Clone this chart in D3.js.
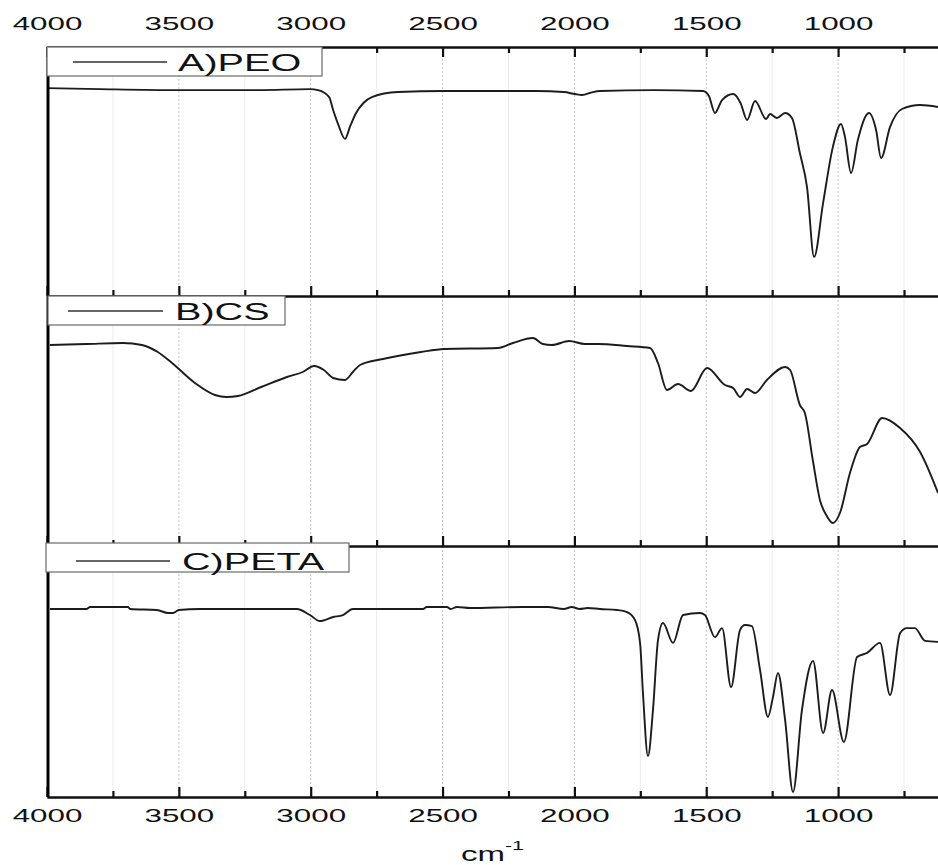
<!DOCTYPE html>
<html>
<head>
<meta charset="utf-8">
<script src="https://cdn.jsdelivr.net/npm/d3@7"></script>
<style>
  body { margin: 0; background: #fff; }
  svg { display: block; }
  text { font-family: Arial, "Liberation Sans", sans-serif; fill: #111; }
</style>
</head>
<body>
<svg id="chart" width="938" height="865"></svg>
<script>
// FTIR spectra, wavenumber (cm-1) vs transmittance (a.u.)
const wnPEO = [4000, 3800, 3500, 3200, 3003, 2972, 2930, 2915, 2895, 2870, 2850, 2828, 2800, 2768, 2669, 2494, 2300, 2146, 2040, 1998, 1971, 1930, 1903, 1700, 1512, 1490, 1467, 1440, 1398, 1370, 1345, 1315, 1273, 1258, 1232, 1201, 1175, 1145, 1118, 1091, 1057, 1020, 989, 974, 951, 925, 883, 856, 837, 803, 758, 689, 621];
const tPEO = [83.5, 83.1, 82.7, 82.7, 83.1, 82.7, 79.9, 74.7, 68.7, 63.1, 68.3, 73.5, 77.5, 79.9, 81.9, 82.3, 82.3, 82.3, 81.9, 81.1, 80.7, 81.9, 82.3, 82.7, 82.3, 80.3, 73.5, 78.7, 81.1, 77.5, 70.7, 78.3, 71.1, 73.1, 71.5, 73.5, 71.5, 57.4, 43.8, 15.7, 37.3, 59.8, 69.1, 63.9, 49.4, 62.7, 73.5, 66.7, 55.4, 67.9, 75.1, 76.7, 75.9];

const wnCS = [3989, 3850, 3712, 3640, 3580, 3526, 3439, 3363, 3320, 3276, 3188, 3090, 3030, 2987, 2950, 2915, 2870, 2840, 2813, 2726, 2582, 2494, 2290, 2233, 2157, 2120, 2085, 2020, 1960, 1910, 1800, 1713, 1683, 1649, 1607, 1558, 1497, 1429, 1398, 1372, 1345, 1315, 1270, 1201, 1182, 1145, 1126, 1096, 1069, 1045, 1020, 993, 955, 917, 890, 833, 765, 689, 621];
const tCS = [80.4, 80.8, 81.2, 80.4, 77.6, 73.2, 65.2, 60.4, 59.6, 60.0, 63.6, 67.6, 69.6, 72.0, 70.4, 67.2, 66.4, 69.6, 72.4, 74.8, 77.6, 78.8, 79.2, 81.2, 83.2, 80.8, 80.4, 82.0, 80.8, 80.8, 80.0, 79.2, 73.2, 62.4, 64.8, 62.0, 71.2, 64.4, 63.2, 59.6, 62.8, 61.2, 66.4, 71.6, 70.4, 56.4, 53.2, 34.4, 18.4, 12.4, 9.2, 13.2, 29.2, 39.6, 40.8, 51.2, 47.2, 37.6, 21.2];

const wnPETA = [3989, 3850, 3837, 3693, 3685, 3583, 3541, 3522, 3500, 3420, 3052, 3003, 2965, 2915, 2878, 2840, 2574, 2560, 2483, 2470, 2445, 2396, 2200, 2100, 2040, 2010, 1980, 1950, 1903, 1838, 1800, 1770, 1751, 1740, 1721, 1702, 1683, 1664, 1626, 1588, 1524, 1505, 1467, 1440, 1406, 1372, 1353, 1327, 1296, 1266, 1247, 1228, 1201, 1171, 1137, 1095, 1057, 1023, 978, 928, 890, 841, 803, 765, 739, 709, 670, 621];
const tPETA = [74.9, 74.9, 75.7, 75.7, 74.9, 74.5, 73.3, 73.3, 74.5, 74.9, 74.9, 72.5, 70.1, 71.7, 72.5, 74.9, 74.9, 75.7, 75.7, 74.9, 75.7, 75.3, 75.7, 75.7, 74.9, 75.7, 74.9, 75.3, 74.9, 74.5, 73.7, 70.5, 61.4, 41.4, 16.3, 34.7, 62.5, 69.3, 61.4, 72.5, 73.3, 72.5, 63.7, 67.3, 43.8, 66.5, 68.5, 68.1, 50.6, 31.9, 39.8, 49.4, 30.7, 2.0, 34.7, 54.2, 25.5, 42.6, 21.9, 55.8, 57.4, 61.4, 40.6, 65.3, 67.3, 67.3, 62.2, 61.8];

const seriesNames = ['A)PEO', 'B)CS', 'C)PETA'];
const majorTicks = [4000, 3500, 3000, 2500, 2000, 1500, 1000];
const minorTicks = [3750, 3250, 2750, 2250, 1750, 1250, 750];
const axisTitle = 'cm';
const axisTitleSup = '-1';

const svg = d3.select('#chart');
const SX = 1.65; // the original figure is stretched horizontally

const left = 47;
const x = d3.scaleLinear().domain([4000, 500]).range([left, left + 3500 * 0.2637]);
const panels = [
  { top: 47, bottom: 296, wn: wnPEO, t: tPEO, name: seriesNames[0], box: [47, 322], lineX: [73, 167], textX: 178 },
  { top: 296, bottom: 546, wn: wnCS, t: tCS, name: seriesNames[1], box: [48, 285], lineX: [68, 163], textX: 175 },
  { top: 546, bottom: 797, wn: wnPETA, t: tPETA, name: seriesNames[2], box: [46, 349], lineX: [76, 170], textX: 182 }
];

// grid lines
panels.forEach(p => {
  const g = svg.append('g');
  g.selectAll('.minor').data(minorTicks).enter().append('line')
    .attr('x1', d => x(d)).attr('x2', d => x(d))
    .attr('y1', p.top).attr('y2', p.bottom)
    .attr('stroke', '#ececec').attr('stroke-width', 1);
  g.selectAll('.major').data(majorTicks.slice(1)).enter().append('line')
    .attr('x1', d => x(d)).attr('x2', d => x(d))
    .attr('y1', p.top).attr('y2', p.bottom)
    .attr('stroke', '#c4c4c4').attr('stroke-width', 1)
    .attr('stroke-dasharray', '2,2');
});

// spectra
panels.forEach(p => {
  const y = d3.scaleLinear().domain([0, 100]).range([p.bottom, p.top]);
  const line = d3.line()
    .x((d, i) => x(p.wn[i]))
    .y(d => y(d))
    .curve(d3.curveMonotoneX);
  svg.append('path')
    .datum(p.t)
    .attr('d', line)
    .attr('fill', 'none')
    .attr('stroke', '#1c1c1c')
    .attr('stroke-width', 1.9)
    .attr('stroke-linejoin', 'round');
});

function styleAxis(g) {
  g.select('.domain').attr('stroke', '#111').attr('stroke-width', 2);
  g.selectAll('.tick line').attr('stroke', '#111').attr('stroke-width', 2.2);
}

// top axis with labels, ticks pointing inward
const topMajor = svg.append('g').attr('transform', `translate(0,${panels[0].top})`)
  .call(d3.axisTop(x).tickValues(majorTicks).tickSize(-10).tickSizeOuter(0).tickPadding(17).tickFormat(d3.format('d')));
topMajor.call(styleAxis);
topMajor.selectAll('text').attr('font-size', 19).attr('transform', `scale(${SX},1)`);
svg.append('g').attr('transform', `translate(0,${panels[0].top})`)
  .call(d3.axisTop(x).tickValues(minorTicks).tickSize(-6).tickSizeOuter(0).tickFormat(''))
  .call(styleAxis);

// bottom axes of each panel, ticks pointing up
panels.forEach((p, i) => {
  const last = i === panels.length - 1;
  const gM = svg.append('g').attr('transform', `translate(0,${p.bottom})`)
    .call(d3.axisBottom(x).tickValues(majorTicks).tickSize(-10).tickSizeOuter(0).tickPadding(12)
      .tickFormat(last ? d3.format('d') : ''));
  gM.call(styleAxis);
  gM.selectAll('text').attr('font-size', 19).attr('transform', `scale(${SX},1)`);
  svg.append('g').attr('transform', `translate(0,${p.bottom})`)
    .call(d3.axisBottom(x).tickValues(minorTicks).tickSize(-6).tickSizeOuter(0).tickFormat(''))
    .call(styleAxis);
});

// left axis
svg.append('line')
  .attr('x1', left + 1).attr('x2', left + 1)
  .attr('y1', panels[0].top).attr('y2', panels[2].bottom)
  .attr('stroke', '#000').attr('stroke-width', 3);

// legends
panels.forEach(p => {
  const yMid = p.top + 15;
  svg.append('rect')
    .attr('x', p.box[0]).attr('y', p.top - (p === panels[2] ? 3 : 0))
    .attr('width', p.box[1] - p.box[0]).attr('height', 29)
    .attr('fill', '#fff').attr('stroke', '#6a6a6a').attr('stroke-width', 1.2);
  svg.append('line')
    .attr('x1', p.lineX[0]).attr('x2', p.lineX[1])
    .attr('y1', yMid).attr('y2', yMid)
    .attr('stroke', '#333').attr('stroke-width', 1.5);
  svg.append('text')
    .attr('transform', `translate(${p.textX},${p.top + 24}) scale(${SX},1)`)
    .attr('font-size', 24)
    .text(p.name);
});

// x axis title
const title = svg.append('text')
  .attr('text-anchor', 'middle')
  .attr('transform', `translate(${(left + 938) / 2},861) scale(${SX},1)`)
  .attr('font-size', 20);
title.append('tspan').text(axisTitle);
title.append('tspan').attr('dy', -11).attr('font-size', 13).text(axisTitleSup);
</script>
</body>
</html>
